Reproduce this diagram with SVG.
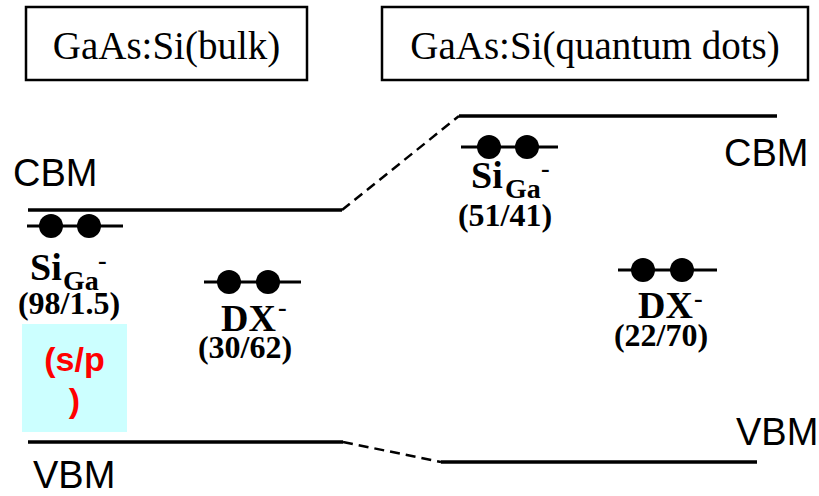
<svg xmlns="http://www.w3.org/2000/svg" width="819" height="496" viewBox="0 0 819 496">
<defs>
<style>
.box{fill:#fff;stroke:#000;stroke-width:2.5}
.title{font-family:"Liberation Serif","Times New Roman",serif;font-size:39px;fill:#000;text-anchor:middle}
.band{stroke:#000;stroke-width:3.5;fill:none}
.dash{stroke:#000;stroke-width:2.5;fill:none;stroke-dasharray:10 6}
.lvl{stroke:#000;stroke-width:3;fill:none}
.dot{fill:#000}
.edge{font-family:"Liberation Sans",Arial,sans-serif;font-size:38px;fill:#000}
.lab{font-family:"Liberation Serif","Times New Roman",serif;font-weight:bold;fill:#000}
.big{font-size:38px}
.sub{font-size:28px}
.num{font-size:32px;text-anchor:middle}
.sup{font-size:26px}
.red{font-family:"Liberation Sans",Arial,sans-serif;font-weight:bold;font-size:34px;fill:#ff0000;text-anchor:middle}
</style>
</defs>
<rect width="819" height="496" fill="#fff"/>

<g id="box-bulk">
<rect class="box" x="26" y="7" width="281" height="73"/>
<text class="title" x="166.5" y="59">GaAs:Si(bulk)</text>
</g>
<g id="box-qd">
<rect class="box" x="382" y="7" width="426" height="73"/>
<text class="title" x="595" y="59">GaAs:Si(quantum dots)</text>
</g>

<g id="bands">
<line class="band" x1="28" y1="210" x2="342" y2="210"/>
<line class="band" x1="459" y1="116" x2="777" y2="116"/>
<line class="band" x1="28" y1="442" x2="343" y2="442"/>
<line class="band" x1="441" y1="462" x2="757" y2="462"/>
</g>

<g id="connectors">
<line class="dash" x1="342" y1="210" x2="459" y2="116"/>
<line class="dash" x1="343" y1="442" x2="441" y2="462"/>
</g>

<g id="label-cbm-left"><text class="edge" x="13" y="186">CBM</text></g>
<g id="label-vbm-left"><text class="edge" x="33" y="488">VBM</text></g>
<g id="label-cbm-right"><text class="edge" x="724" y="166">CBM</text></g>
<g id="label-vbm-right"><text class="edge" x="736" y="445">VBM</text></g>

<g id="siga-bulk">
<line class="lvl" x1="27" y1="226" x2="123" y2="226"/>
<circle class="dot" cx="51" cy="226" r="12"/>
<circle class="dot" cx="89" cy="226" r="12"/>
<text class="lab big" x="30" y="280">Si</text>
<text class="lab sub" x="63" y="290">Ga</text>
<text class="lab sup" x="98" y="269">-</text>
<text class="lab num" x="69" y="314">(98/1.5)</text>
</g>

<g id="sp-note">
<rect x="22" y="324" width="105" height="108" fill="#ccffff"/>
<text class="red" x="74.5" y="371">(s/p</text>
<text class="red" x="74.5" y="412">)</text>
</g>

<g id="dx-bulk">
<line class="lvl" x1="204" y1="282" x2="301" y2="282"/>
<circle class="dot" cx="229" cy="282" r="12"/>
<circle class="dot" cx="268" cy="282" r="12"/>
<text class="lab big" x="221" y="331">DX</text>
<text class="lab sup" x="278" y="316">-</text>
<text class="lab num" x="245" y="358">(30/62)</text>
</g>

<g id="siga-qd">
<line class="lvl" x1="461" y1="147" x2="558" y2="147"/>
<circle class="dot" cx="489" cy="147" r="12"/>
<circle class="dot" cx="527" cy="147" r="12"/>
<text class="lab big" x="471" y="188">Si</text>
<text class="lab sub" x="505" y="198">Ga</text>
<text class="lab sup" x="541" y="177">-</text>
<text class="lab num" x="505" y="226">(51/41)</text>
</g>

<g id="dx-qd">
<line class="lvl" x1="618" y1="270" x2="717" y2="270"/>
<circle class="dot" cx="643" cy="270" r="12"/>
<circle class="dot" cx="682" cy="270" r="12"/>
<text class="lab big" x="638" y="318">DX</text>
<text class="lab sup" x="694" y="307">-</text>
<text class="lab num" x="661" y="346">(22/70)</text>
</g>
</svg>
